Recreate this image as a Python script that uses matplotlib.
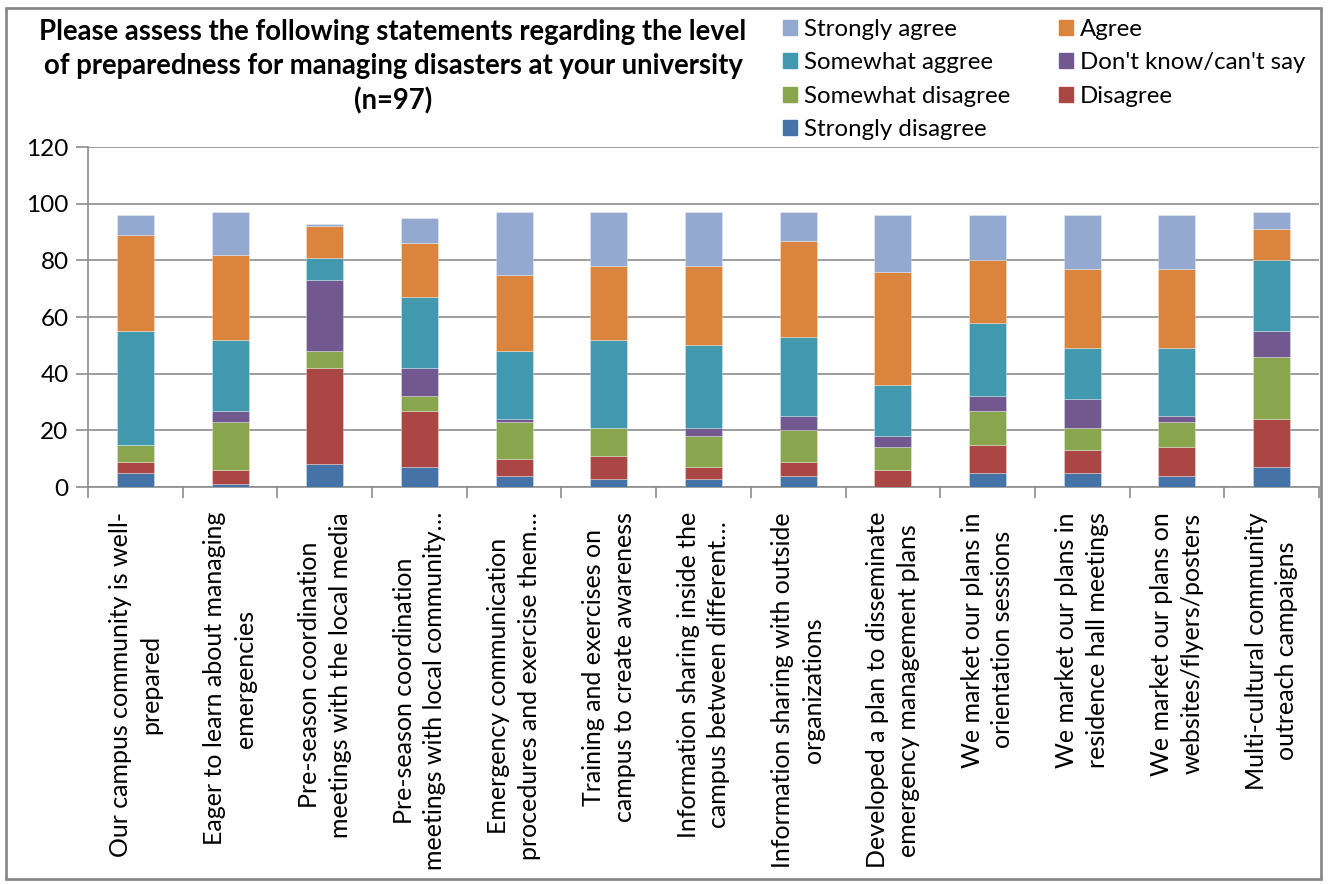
import matplotlib
matplotlib.use('Agg')
import matplotlib.pyplot as plt
import matplotlib.patches as mpatches
import numpy as np

plt.rcParams.update({"font.family": "Lato"})

statements = [
    "Our campus community is well-\nprepared",
    "Eager to learn about managing\nemergencies",
    "Pre-season coordination\nmeetings with the local media",
    "Pre-season coordination\nmeetings with local community\u2026",
    "Emergency communication\nprocedures and exercise them\u2026",
    "Training and exercises on\ncampus to create awareness",
    "Information sharing inside the\ncampus between different\u2026",
    "Information sharing with outside\norganizations",
    "Developed a plan to disseminate\nemergency management plans",
    "We market our plans in\norientation sessions",
    "We market our plans in\nresidence hall meetings",
    "We market our plans on\nwebsites/flyers/posters",
    "Multi-cultural community\noutreach campaigns",
]

# response counts per statement, stacked bottom to top
strongly_disagree = [5, 1, 8, 7, 4, 3, 3, 4, 0, 5, 5, 4, 7]
disagree          = [4, 5, 34, 20, 6, 8, 4, 5, 6, 10, 8, 10, 17]
somewhat_disagree = [6, 17, 6, 5, 13, 10, 11, 11, 8, 12, 8, 9, 22]
dont_know         = [0, 4, 25, 10, 1, 0, 3, 5, 4, 5, 10, 2, 9]
somewhat_agree    = [40, 25, 8, 25, 24, 31, 29, 28, 18, 26, 18, 24, 25]
agree             = [34, 30, 11, 19, 27, 26, 28, 34, 40, 22, 28, 28, 11]
strongly_agree    = [7, 15, 1, 9, 22, 19, 19, 10, 20, 16, 19, 19, 6]

series = [
    ("Strongly disagree", strongly_disagree, "#4572A7"),
    ("Disagree", disagree, "#AA4643"),
    ("Somewhat disagree", somewhat_disagree, "#89A54E"),
    ("Don't know/can't say", dont_know, "#71588F"),
    ("Somewhat aggree", somewhat_agree, "#4198AF"),
    ("Agree", agree, "#DB843D"),
    ("Strongly agree", strongly_agree, "#93A9CF"),
]

grid_c = "#8c8c8c"

fig = plt.figure(figsize=(13.29, 8.84), dpi=100)
ax = fig.add_axes([88 / 1329, 1 - 487 / 884, (1319 - 88) / 1329, (487 - 147) / 884])

x = np.arange(len(statements))
bottom = np.zeros(len(statements))
handles = {}
for name, vals, col in series:
    vals = np.array(vals, dtype=float)
    ax.bar(x, vals, width=0.39, bottom=bottom, color=col,
           edgecolor=(1, 1, 1, 0.35), linewidth=0.6, zorder=3)
    handles[name] = mpatches.Patch(color=col, label=name)
    bottom += vals

ax.set_xlim(-0.5, len(statements) - 0.5)
ax.set_ylim(0, 120)
ax.set_yticks(range(0, 121, 20))
ax.yaxis.grid(True, color=grid_c, linewidth=1.2, zorder=0)
ax.set_axisbelow(True)
for s in ["top", "right"]:
    ax.spines[s].set_visible(False)
for s in ["left", "bottom"]:
    ax.spines[s].set_color(grid_c)
    ax.spines[s].set_linewidth(1.2)
ax.tick_params(axis="y", length=9, width=1.2, color=grid_c, labelsize=17.5, pad=5)

# category boundary ticks below the axis, labels centred on each bar
ax.set_xticks(np.arange(len(statements) + 1) - 0.5)
ax.set_xticklabels([])
ax.tick_params(axis="x", which="major", length=8, width=1.2, color=grid_c)
ax.set_xticks(x, minor=True)
ax.set_xticklabels(statements, minor=True, rotation=90, fontsize=18,
                   va="top", ha="center", multialignment="center", linespacing=1.4)
ax.tick_params(axis="x", which="minor", length=0, pad=18)

fig.text(393 / 1329, 1 - 67 / 884,
         "Please assess the following statements regarding the level\n"
         "of preparedness for managing disasters at your university\n(n=97)",
         ha="center", va="center", fontsize=19.8, fontweight="bold", linespacing=1.38)

order = ["Strongly agree", "Somewhat aggree", "Somewhat disagree", "Strongly disagree",
         "Agree", "Don't know/can't say", "Disagree"]
fig.legend(handles=[handles[n] for n in order], ncol=2, loc="upper left",
           bbox_to_anchor=(773 / 1329, 1 - 9 / 884), frameon=False, fontsize=17.3,
           handlelength=0.6, handleheight=0.6, handletextpad=0.3,
           labelspacing=0.52, columnspacing=2.0, borderaxespad=0)

# outer chart frame
fig.patches.append(mpatches.Rectangle((6 / 1329, 5 / 884), 1315 / 1329, 871 / 884,
                                      transform=fig.transFigure, fill=False,
                                      edgecolor="#8a8a8a", linewidth=2))

fig.savefig("out.png", dpi=100)
